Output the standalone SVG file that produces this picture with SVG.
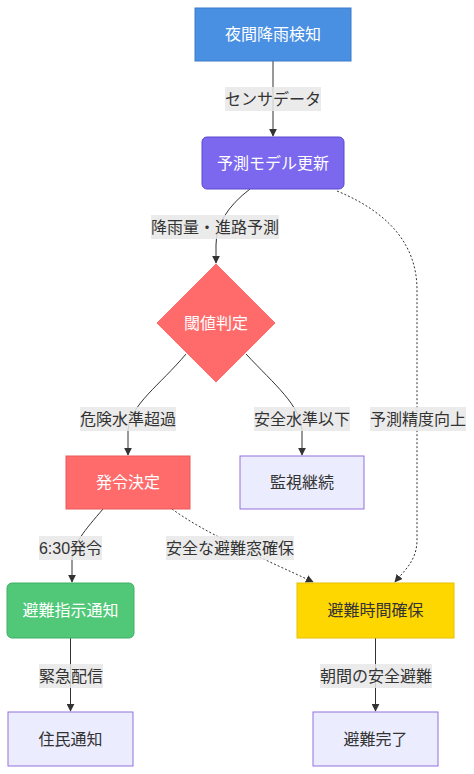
<svg xmlns="http://www.w3.org/2000/svg" width="474" height="774" viewBox="0 0 474 774">
<style>
text{font-family:"Liberation Sans","Noto Sans CJK JP",sans-serif;font-size:16px;text-anchor:middle;dominant-baseline:central}
.w{fill:#ffffff}
.d{fill:#333333}
.def{fill:#ececff;stroke:#9370db;stroke-width:1}
.e{fill:none;stroke:#333333;stroke-width:1}
.dot{stroke-dasharray:2 2}
.lb{fill:#e8e8e8;opacity:0.85}
</style>
<defs>
<marker id="ah" viewBox="0 0 10 10" refX="9" refY="5" markerWidth="8" markerHeight="8" markerUnits="userSpaceOnUse" orient="auto">
<path d="M0,0 L10,5 L0,10 z" fill="#333333"/>
</marker>
</defs>
<g id="edges">
<path class="e" d="M273,61 L273,136" marker-end="url(#ah)"/>
<path class="e" d="M250,189 Q216,215 216,245 L216,263" marker-end="url(#ah)"/>
<path class="e" d="M186,354 C160,385 130,405 128,430 L128,455" marker-end="url(#ah)"/>
<path class="e" d="M246,354 C275,385 300,405 302,430 L302,455" marker-end="url(#ah)"/>
<path class="e" d="M103,509 C85,530 72,545 72,560 L72,582" marker-end="url(#ah)"/>
<path class="e dot" d="M172,509 C190,522 210,533 235,545 C260,558 290,571 313,582" marker-end="url(#ah)"/>
<path class="e dot" d="M337,191 C395,215 417,250 417,290 L417,540 C417,560 405,570 395,582" marker-end="url(#ah)"/>
<path class="e" d="M70.5,638 L70.5,711" marker-end="url(#ah)"/>
<path class="e" d="M375.5,638 L375.5,711" marker-end="url(#ah)"/>
</g>
<g id="edge-labels">
<rect class="lb" x="225" y="87" width="96" height="24"/><text class="d" x="273" y="99">センサデータ</text>
<rect class="lb" x="151" y="215" width="128" height="24"/><text class="d" x="215" y="227">降雨量・進路予測</text>
<rect class="lb" x="80" y="407" width="96" height="24"/><text class="d" x="128" y="419">危険水準超過</text>
<rect class="lb" x="254" y="407" width="96" height="24"/><text class="d" x="302" y="419">安全水準以下</text>
<rect class="lb" x="370" y="407" width="96" height="24"/><text class="d" x="418" y="419">予測精度向上</text>
<rect class="lb" x="39" y="536" width="63" height="24"/><text class="d" x="70.5" y="548">6:30発令</text>
<rect class="lb" x="166" y="536" width="128" height="24"/><text class="d" x="230" y="548">安全な避難窓確保</text>
<rect class="lb" x="39" y="664" width="64" height="24"/><text class="d" x="71" y="676">緊急配信</text>
<rect class="lb" x="320" y="664" width="112" height="24"/><text class="d" x="376" y="676">朝間の安全避難</text>
</g>
<g id="n1"><rect x="195" y="8" width="156" height="53" fill="#4a90e2" stroke="#3a7bc8"/><text class="w" x="273" y="34.5">夜間降雨検知</text></g>
<g id="n2"><rect x="202" y="137" width="142" height="52" rx="5" fill="#7b68ee" stroke="#5b48ce"/><text class="w" x="273" y="163">予測モデル更新</text></g>
<g id="n3"><path d="M216,264 L275,323 L216,382 L157,323 z" fill="#ff6b6b" stroke="#ff6b6b"/><text class="w" x="216" y="323">閾値判定</text></g>
<g id="n4"><rect x="66" y="456" width="124" height="53" fill="#ff6b6b" stroke="#e85a5a"/><text class="w" x="128" y="482.5">発令決定</text></g>
<g id="n5"><rect class="def" x="240" y="456" width="124" height="53"/><text class="d" x="302" y="482.5">監視継続</text></g>
<g id="n6"><rect x="7" y="583" width="127" height="55" rx="5" fill="#50c878" stroke="#3fb066"/><text class="w" x="70.5" y="610.5">避難指示通知</text></g>
<g id="n7"><rect x="297" y="583" width="157" height="55" fill="#ffd700" stroke="#e6c200"/><text class="d" x="375.5" y="610.5">避難時間確保</text></g>
<g id="n8"><rect class="def" x="8" y="712" width="125" height="54"/><text class="d" x="70.5" y="739">住民通知</text></g>
<g id="n9"><rect class="def" x="313" y="712" width="125" height="54"/><text class="d" x="375.5" y="739">避難完了</text></g>
</svg>
